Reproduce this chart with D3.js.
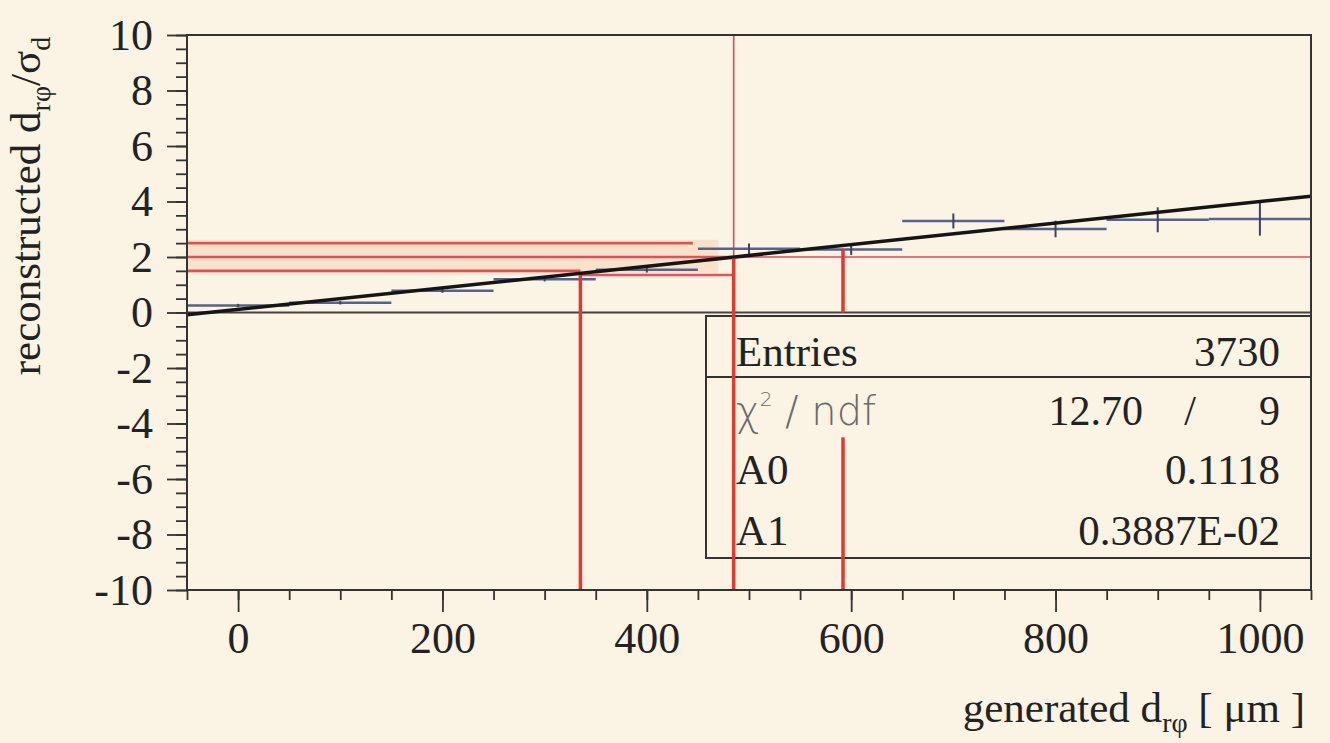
<!DOCTYPE html>
<html>
<head>
<meta charset="utf-8">
<script src="https://cdn.jsdelivr.net/npm/d3@7"></script>
<style>
  html, body { margin: 0; padding: 0; background: #fbf3e4; }
  svg { display: block; }
</style>
</head>
<body>
<div id="canvas"></div>
<script>
"use strict"

/* Data */
let binCenters = [0, 100, 200, 300, 400, 500, 600, 700, 800, 900, 1000];
let binMeans   = [0.25, 0.35, 0.78, 1.2, 1.54, 2.3, 2.27, 3.30, 3.01, 3.34, 3.37];
let binErrors  = [0.06, 0.06, 0.07, 0.08, 0.1, 0.19, 0.2, 0.27, 0.3, 0.45, 0.6];
let binHalf = 50;

let fitA0 = 0.1118;
let fitA1 = 0.3887e-2;

let xTicks = [0, 200, 400, 600, 800, 1000];
let yTicks = [-10, -8, -6, -4, -2, 0, 2, 4, 6, 8, 10];

let statNames  = ["Entries", "chi2", "A0", "A1"];
let statValues = ["3730", "12.70", "0.1118", "0.3887E-02"];
let ndf = "9";

/* red pen marks on the print (data coordinates) */
let bandLines = [
  { y: 2.5, x0: -50, x1: 445 },
  { y: 2.0, x0: -50, x1: 485 },
  { y: 1.5, x0: -50, x1: 335 },
  { y: 1.35, x0: 335, x1: 485 }
];
let thinLines = [
  { x0: 485, x1: 1050, y0: 2.0, y1: 2.0 },
  { x0: 485, x1: 485, y0: 1.95, y1: 10 }
];
let dropLines = [
  { x: 335, y0: -10, y1: 1.35 },
  { x: 485, y0: -10, y1: 1.95 },
  { x: 592, y0: 0, y1: 2.25 },
  { x: 592, y0: -10, y1: -4.5 }
];

/* Drawing config */
let svgWidth = 1330;
let svgHeight = 743;
let plotLeft = 187, plotRight = 1311, plotTop = 35, plotBottom = 590;
let serif = "'Liberation Serif', 'DejaVu Serif', serif";

let svg = d3.select("#canvas")
    .append("svg")
    .attr("width", svgWidth)
    .attr("height", svgHeight);

svg.append("rect")
    .attr("width", svgWidth)
    .attr("height", svgHeight)
    .attr("fill", "#fbf3e4");

let xScale = d3.scaleLinear().domain([-50, 1050]).range([plotLeft, plotRight]);
let yScale = d3.scaleLinear().domain([-10, 10]).range([plotBottom, plotTop]);

/* orange wash between the pen lines */
svg.append("rect")
    .attr("x", xScale(-50))
    .attr("y", yScale(2.62))
    .attr("width", xScale(470) - xScale(-50))
    .attr("height", yScale(1.42) - yScale(2.62))
    .attr("fill", "#f8c29a")
    .attr("opacity", 0.35);

/* zero line */
svg.append("line")
    .attr("x1", xScale(-50)).attr("x2", xScale(1050))
    .attr("y1", yScale(0)).attr("y2", yScale(0))
    .attr("stroke", "#444")
    .attr("stroke-width", 2);

/* pen marks */
svg.selectAll(".band")
    .data(bandLines)
    .join("line")
    .attr("x1", d => xScale(d.x0)).attr("x2", d => xScale(d.x1))
    .attr("y1", d => yScale(d.y)).attr("y2", d => yScale(d.y))
    .attr("stroke", "#e2363f")
    .attr("stroke-width", 2.6)
    .attr("opacity", 0.85);

svg.selectAll(".thin")
    .data(thinLines)
    .join("line")
    .attr("x1", d => xScale(d.x0)).attr("x2", d => xScale(d.x1))
    .attr("y1", d => yScale(d.y0)).attr("y2", d => yScale(d.y1))
    .attr("stroke", "#e0485a")
    .attr("stroke-width", 1.6);

/* profile bins */
let bins = binCenters.map((c, i) => ({ x: c, y: binMeans[i], e: binErrors[i] }));

svg.selectAll(".binbar")
    .data(bins)
    .join("line")
    .attr("x1", d => xScale(d.x - binHalf)).attr("x2", d => xScale(d.x + binHalf))
    .attr("y1", d => yScale(d.y)).attr("y2", d => yScale(d.y))
    .attr("stroke", "#56628e")
    .attr("stroke-width", 2.5);

svg.selectAll(".binerr")
    .data(bins)
    .join("line")
    .attr("x1", d => xScale(d.x)).attr("x2", d => xScale(d.x))
    .attr("y1", d => yScale(d.y - d.e)).attr("y2", d => yScale(d.y + d.e))
    .attr("stroke", "#3d4260")
    .attr("stroke-width", 2);

/* fit line */
svg.append("line")
    .attr("x1", xScale(-50)).attr("x2", xScale(1050))
    .attr("y1", yScale(fitA0 + fitA1 * -50))
    .attr("y2", yScale(fitA0 + fitA1 * 1050))
    .attr("stroke", "#151515")
    .attr("stroke-width", 3.5);

/* stats box */
let boxL = 706, boxT = 316, boxB = 558, rowSplit = 377;
svg.append("rect")
    .attr("x", boxL).attr("y", boxT)
    .attr("width", plotRight - boxL).attr("height", boxB - boxT)
    .attr("fill", "none")
    .attr("stroke", "#333")
    .attr("stroke-width", 2);
svg.append("line")
    .attr("x1", boxL).attr("x2", plotRight)
    .attr("y1", rowSplit).attr("y2", rowSplit)
    .attr("stroke", "#333")
    .attr("stroke-width", 2);

let rowY = [366, 425, 484, 545];
statNames.forEach((name, i) => {
  if (name === "chi2") {
    let t = svg.append("text")
        .attr("x", 736).attr("y", rowY[i])
        .attr("font-family", "'DejaVu Sans', sans-serif")
        .attr("font-weight", 200)
        .attr("font-size", 40)
        .attr("fill", "#6a6a6a");
    t.append("tspan").text("χ");
    t.append("tspan").attr("font-size", 20).attr("dy", -19).text("2");
    t.append("tspan").attr("dy", 19).text(" / ndf");
    svg.append("text")
        .attr("x", 1143).attr("y", rowY[i])
        .attr("text-anchor", "end")
        .attr("font-family", serif).attr("font-size", 42)
        .attr("fill", "#222")
        .text(statValues[i]);
    svg.append("text")
        .attr("x", 1190).attr("y", rowY[i])
        .attr("text-anchor", "middle")
        .attr("font-family", serif).attr("font-size", 42)
        .attr("fill", "#222")
        .text("/");
    svg.append("text")
        .attr("x", 1280).attr("y", rowY[i])
        .attr("text-anchor", "end")
        .attr("font-family", serif).attr("font-size", 42)
        .attr("fill", "#222")
        .text(ndf);
  } else {
    svg.append("text")
        .attr("x", 736).attr("y", rowY[i])
        .attr("font-family", serif).attr("font-size", 43)
        .attr("fill", "#222")
        .text(name);
    svg.append("text")
        .attr("x", 1280).attr("y", rowY[i])
        .attr("text-anchor", "end")
        .attr("font-family", serif).attr("font-size", 43)
        .attr("fill", "#222")
        .text(statValues[i]);
  }
});

/* thick red drops (drawn over the box, as on the print) */
svg.selectAll(".drop")
    .data(dropLines)
    .join("line")
    .attr("x1", d => xScale(d.x)).attr("x2", d => xScale(d.x))
    .attr("y1", d => yScale(d.y0)).attr("y2", d => yScale(d.y1))
    .attr("stroke", "#e5372b")
    .attr("stroke-width", 3.5);

/* frame */
svg.append("rect")
    .attr("x", plotLeft).attr("y", plotTop)
    .attr("width", plotRight - plotLeft).attr("height", plotBottom - plotTop)
    .attr("fill", "none")
    .attr("stroke", "#333")
    .attr("stroke-width", 2);

/* axes */
let plain = d => String(d);
let xMinor = svg.append("g")
    .attr("transform", "translate(0," + plotBottom + ")")
    .call(d3.axisBottom(xScale).tickValues(d3.range(-50, 1051, 50)).tickSize(10).tickFormat(""));
let xMajor = svg.append("g")
    .attr("transform", "translate(0," + plotBottom + ")")
    .call(d3.axisBottom(xScale).tickValues(xTicks).tickSize(22).tickPadding(10).tickFormat(plain));
let yMinor = svg.append("g")
    .attr("transform", "translate(" + plotLeft + ",0)")
    .call(d3.axisLeft(yScale).tickValues(d3.range(-10, 10.01, 0.5)).tickSize(11).tickFormat(""));
let yMajor = svg.append("g")
    .attr("transform", "translate(" + plotLeft + ",0)")
    .call(d3.axisLeft(yScale).tickValues(yTicks).tickSize(20).tickPadding(14).tickFormat(plain));

[xMinor, xMajor, yMinor, yMajor].forEach(g => {
  g.select(".domain").remove();
  g.selectAll(".tick line").attr("stroke", "#333").attr("stroke-width", 1.8);
  g.selectAll("text")
      .attr("font-family", serif)
      .attr("font-size", 44)
      .attr("fill", "#222");
});

/* axis titles */
let xt = svg.append("text")
    .attr("x", 1305).attr("y", 722)
    .attr("text-anchor", "end")
    .attr("font-family", serif).attr("font-size", 43)
    .attr("fill", "#222");
xt.append("tspan").text("generated d");
xt.append("tspan").attr("font-size", 28).attr("dy", 10).text("rφ");
xt.append("tspan").attr("dy", -10).text(" [ μm ]");

let yt = svg.append("text")
    .attr("transform", "translate(40,206) rotate(-90)")
    .attr("text-anchor", "middle")
    .attr("font-family", serif).attr("font-size", 43)
    .attr("fill", "#222");
yt.append("tspan").text("reconstructed d");
yt.append("tspan").attr("font-size", 28).attr("dy", 10).text("rφ");
yt.append("tspan").attr("dy", -10).text("/σ");
yt.append("tspan").attr("font-size", 28).attr("dy", 10).text("d");
</script>
</body>
</html>
